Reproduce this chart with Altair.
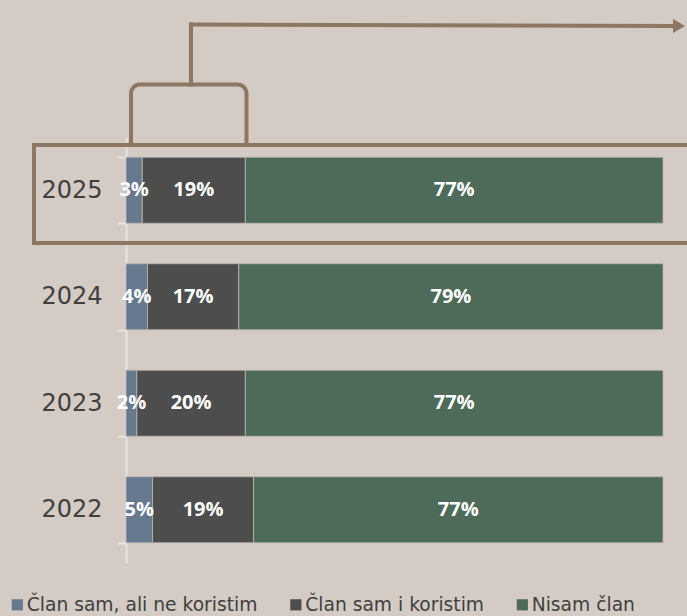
import altair as alt
import pandas as pd

years = ["2025", "2024", "2023", "2022"]
categories = ["Član sam, ali ne koristim", "Član sam i koristim", "Nisam član"]
v_ali_ne = [3, 4, 2, 5]
v_koristim = [19, 17, 20, 19]
v_nisam = [77, 79, 77, 77]
colors = ["#67798f", "#4d4d4d", "#4e6b5a"]

rows = []
for i, y in enumerate(years):
    for k, (cat, vals) in enumerate(zip(categories, [v_ali_ne, v_koristim, v_nisam])):
        rows.append({"year": y, "cat": cat, "value": vals[i], "ord": k, "label": f"{vals[i]}%"})
df = pd.DataFrame(rows)

BG = "#d3cbc4"
BROWN = "#8e7762"

base = alt.Chart(df).transform_stack(
    stack="value", groupby=["year"], as_=["x0", "x1"], offset="normalize",
    sort=[alt.SortField("ord", order="ascending")]
).transform_calculate(mid="(datum.x0 + datum.x1) / 2")

yenc = alt.Y("year:N", sort=years, title=None,
             scale=alt.Scale(paddingInner=0.38, paddingOuter=0.19),
             axis=alt.Axis(domainColor="#e8e4e0", domainWidth=2, tickColor="#e8e4e0",
                           tickWidth=2, tickSize=8, tickBand="extent",
                           labelFont="DejaVu Sans", labelFontSize=24, labelColor="#404040",
                           labelPadding=16))

bars = base.mark_bar(stroke="#bdb7b0", strokeWidth=0.8).encode(
    y=yenc,
    x=alt.X("x0:Q", scale=alt.Scale(domain=[0, 1]), axis=None),
    x2="x1:Q",
    color=alt.Color("cat:N", scale=alt.Scale(domain=categories, range=colors),
                    legend=alt.Legend(title=None, orient="none", legendX=-118, legendY=458,
                                      direction="horizontal", padding=0,
                                      symbolType="square", symbolSize=125, symbolStrokeWidth=0,
                                      labelFont="DejaVu Sans", labelFontSize=18.7,
                                      labelColor="#404040", labelLimit=400,
                                      columnPadding=28.5, labelOffset=0)),
)

texts = base.mark_text(font="Open Sans", fontWeight="bold", fontSize=20, color="white").encode(
    y=alt.Y("year:N", sort=years),
    x=alt.X("mid:Q", scale=alt.Scale(domain=[0, 1])),
    text="label:N",
)

dummy = alt.Chart(pd.DataFrame({"d": [0]}))

box = dummy.mark_rect(fillOpacity=0, stroke=BROWN, strokeWidth=4).encode(
    x=alt.value(-92), x2=alt.value(570), y=alt.value(8), y2=alt.value(106))

bracket = dummy.mark_rect(fillOpacity=0, stroke=BROWN, strokeWidth=4,
                          cornerRadiusTopLeft=9, cornerRadiusTopRight=9).encode(
    x=alt.value(5), x2=alt.value(120.5), y=alt.value(-52.5), y2=alt.value(8))

stem = dummy.mark_rule(stroke=BROWN, strokeWidth=4, strokeCap="square").encode(
    x=alt.value(65), y=alt.value(-52.5), y2=alt.value(-112.5))

arrow_line = dummy.mark_rule(stroke=BROWN, strokeWidth=4, strokeCap="square").encode(
    x=alt.value(65), x2=alt.value(548), y=alt.value(-112.5), y2=alt.value(-111))

arrow_head = dummy.mark_point(shape="triangle-right", filled=True, color=BROWN, opacity=1,
                              size=190).encode(
    x=alt.value(553), y=alt.value(-111))

chart = alt.layer(bars, texts, box, bracket, stem, arrow_line, arrow_head).properties(
    width=537, height=426, background=BG,
    autosize=alt.AutoSizeParams(type="none"),
    padding={"left": 126, "top": 137, "right": 24, "bottom": 53},
).configure_view(stroke=None)

chart.save("out.html", embed_options={"renderer": "svg", "actions": False})
